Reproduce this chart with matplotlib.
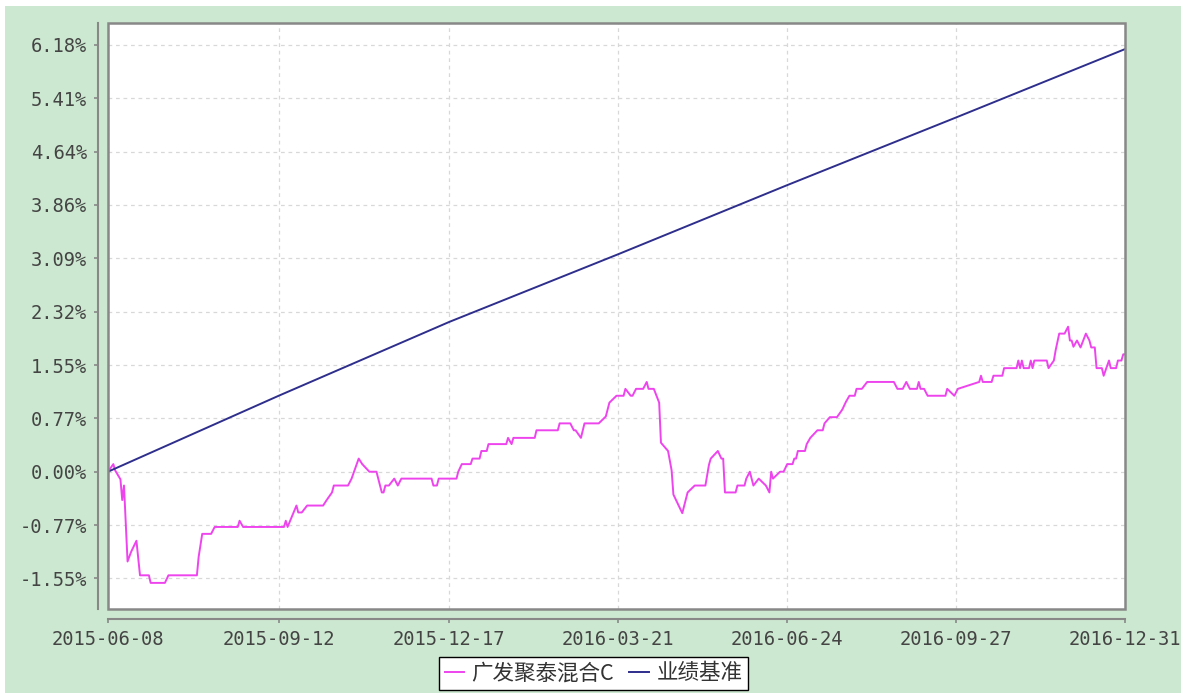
import matplotlib
matplotlib.use("Agg")
import matplotlib.pyplot as plt
import numpy as np
from matplotlib.patches import Rectangle

plt.rcParams['font.family'] = ['DejaVu Sans Mono']

# ---- data (days counted from 2015-06-08, values in %) ----
start_date = np.datetime64('2015-06-08')

fund_name = '广发聚泰混合C'
fund_days = [0, 3, 4, 7, 8, 9, 11, 13, 16, 18, 23, 24, 32, 34, 50, 51, 53, 58, 60, 73,
             74, 76, 99, 100, 101, 106, 107, 109, 112, 121, 123, 126, 127, 135, 137, 141, 143, 147, 151, 154,
             155, 156, 158, 161, 163, 165, 182, 183, 185, 186, 196, 197, 199, 204, 205, 209, 210, 213, 214, 224,
             225, 227, 228, 240, 241, 253, 254, 260, 262, 263, 266, 268, 276, 280, 281, 282, 286, 290, 291, 294,
             295, 297, 301, 303, 304, 307, 310, 311, 315, 317, 318, 323, 326, 330, 336, 338, 339, 343, 345, 346,
             347, 353, 354, 358, 359, 361, 363, 366, 370, 372, 373, 374, 378, 380, 382, 385, 386, 387, 388, 392,
             393, 395, 399, 402, 403, 406, 410, 413, 415, 417, 420, 421, 424, 427, 442, 444, 447, 449, 451, 455,
             456, 457, 459, 461, 471, 472, 476, 478, 490, 491, 492, 497, 498, 503, 504, 511, 512, 513, 514, 515,
             518, 519, 520, 521, 528, 529, 532, 533, 535, 538, 540, 541, 542, 543, 545, 547, 550, 552, 553, 555,
             556, 559, 560, 563, 564, 567, 568, 570, 571, 572]
fund_values = [0.00, 0.11, 0.02, -0.11, -0.41, -0.20, -1.30, -1.16, -1.00, -1.50, -1.50, -1.61, -1.61, -1.50, -1.50, -1.23, -0.90, -0.90, -0.80, -0.80,
               -0.71, -0.80, -0.80, -0.71, -0.80, -0.49, -0.59, -0.59, -0.49, -0.49, -0.41, -0.30, -0.20, -0.20, -0.10, 0.19, 0.11, 0.00, 0.00, -0.30,
               -0.30, -0.20, -0.20, -0.10, -0.20, -0.10, -0.10, -0.20, -0.20, -0.10, -0.10, 0.00, 0.11, 0.11, 0.19, 0.19, 0.30, 0.30, 0.40, 0.40,
               0.49, 0.40, 0.49, 0.49, 0.60, 0.60, 0.70, 0.70, 0.60, 0.60, 0.49, 0.70, 0.70, 0.80, 0.90, 1.00, 1.10, 1.10, 1.20, 1.10,
               1.10, 1.20, 1.20, 1.30, 1.20, 1.20, 1.00, 0.42, 0.30, 0.02, -0.33, -0.60, -0.30, -0.20, -0.20, 0.10, 0.19, 0.30, 0.19, 0.19,
               -0.30, -0.30, -0.20, -0.20, -0.10, 0.00, -0.20, -0.10, -0.20, -0.30, 0.00, -0.10, 0.00, 0.00, 0.11, 0.11, 0.19, 0.19, 0.30, 0.30,
               0.40, 0.49, 0.60, 0.60, 0.70, 0.79, 0.79, 0.90, 1.01, 1.10, 1.10, 1.20, 1.20, 1.30, 1.30, 1.20, 1.20, 1.30, 1.20, 1.20,
               1.30, 1.20, 1.20, 1.10, 1.10, 1.20, 1.10, 1.20, 1.30, 1.39, 1.30, 1.30, 1.39, 1.39, 1.50, 1.50, 1.61, 1.50, 1.61, 1.50,
               1.50, 1.61, 1.50, 1.61, 1.61, 1.50, 1.61, 1.76, 2.00, 2.00, 2.10, 1.90, 1.90, 1.81, 1.90, 1.80, 2.00, 1.90, 1.80, 1.80,
               1.50, 1.50, 1.39, 1.61, 1.50, 1.50, 1.61, 1.61, 1.70, 1.70]

bench_name = '业绩基准'
bench_days = [0, 96, 192, 287, 382, 477, 572]
bench_values = [0.00, 1.10, 2.17, 3.15, 4.15, 5.13, 6.12]

xtick_labels = ['2015-06-08', '2015-09-12', '2015-12-17', '2016-03-21',
                '2016-06-24', '2016-09-27', '2016-12-31']
ytick_values = [-1.545, -0.7725, 0.0, 0.7725, 1.545, 2.3175, 3.09, 3.8625, 4.635, 5.4075, 6.18]
ytick_labels = ['-1.55%', '-0.77%', '0.00%', '0.77%', '1.55%', '2.32%', '3.09%',
                '3.86%', '4.64%', '5.41%', '6.18%']

fund_dates = start_date + np.array(fund_days).astype('timedelta64[D]')
bench_dates = start_date + np.array(bench_days).astype('timedelta64[D]')
xtick_dates = np.array(xtick_labels, dtype='datetime64[D]')

# ---- figure ----
fig = plt.figure(figsize=(11.9, 6.93), dpi=100)
fig.patch.set_facecolor('white')
bg = Rectangle((5 / 1190, 0), 1176 / 1190, 687 / 693, transform=fig.transFigure,
               facecolor='#cce8d0', edgecolor='none', zorder=-10)
fig.add_artist(bg)

ax = fig.add_axes([108 / 1190, 84 / 693, 1017 / 1190, 586 / 693])
ax.set_zorder(1)
ax.set_facecolor('white')

ax.plot(fund_dates, fund_values, color='#ee44ee', lw=1.4, label=fund_name, zorder=3)
ax.plot(bench_dates, bench_values, color='#2e2e8c', lw=1.4, label=bench_name, zorder=4)

ax.set_xlim(xtick_dates[0], xtick_dates[-1])
ax.set_ylim(-1.988, 6.498)
ax.set_xticks(xtick_dates)
ax.set_xticklabels(xtick_labels)
ax.set_yticks(ytick_values)
ax.set_yticklabels(ytick_labels)

ax.grid(True, color='#d8d8d8', linestyle=(0, (3, 3)), linewidth=0.9)
ax.set_axisbelow(True)

# offset axis lines plus a separate frame round the plot area
for side in ['top', 'right']:
    ax.spines[side].set_visible(False)
for side in ['left', 'bottom']:
    ax.spines[side].set_position(('outward', 7))
    ax.spines[side].set_color('#888888')
    ax.spines[side].set_linewidth(1.5)
ax.add_patch(Rectangle((0, 0), 1, 1, transform=ax.transAxes, fill=False,
                       edgecolor='#888888', linewidth=1.8, clip_on=False, zorder=5))

ax.tick_params(axis='both', colors='#888888', length=3, width=1.2, labelcolor='#444444',
               labelsize=13.5, pad=5)

leg = fig.legend(loc='upper center', bbox_to_anchor=(593.5 / 1190, 36 / 693), ncol=2,
                 prop={'family': ['Noto Sans CJK SC', 'DejaVu Sans'], 'size': 15.5},
                 frameon=True, fancybox=False, edgecolor='black', facecolor='white', framealpha=1,
                 handlelength=0.9, handletextpad=0.35, columnspacing=0.7, borderpad=0.25,
                 borderaxespad=0)
leg.set_zorder(10)
leg.get_frame().set_linewidth(1.0)
for t in leg.get_texts():
    t.set_color('#333333')

fig.savefig('out.png', dpi=100)
